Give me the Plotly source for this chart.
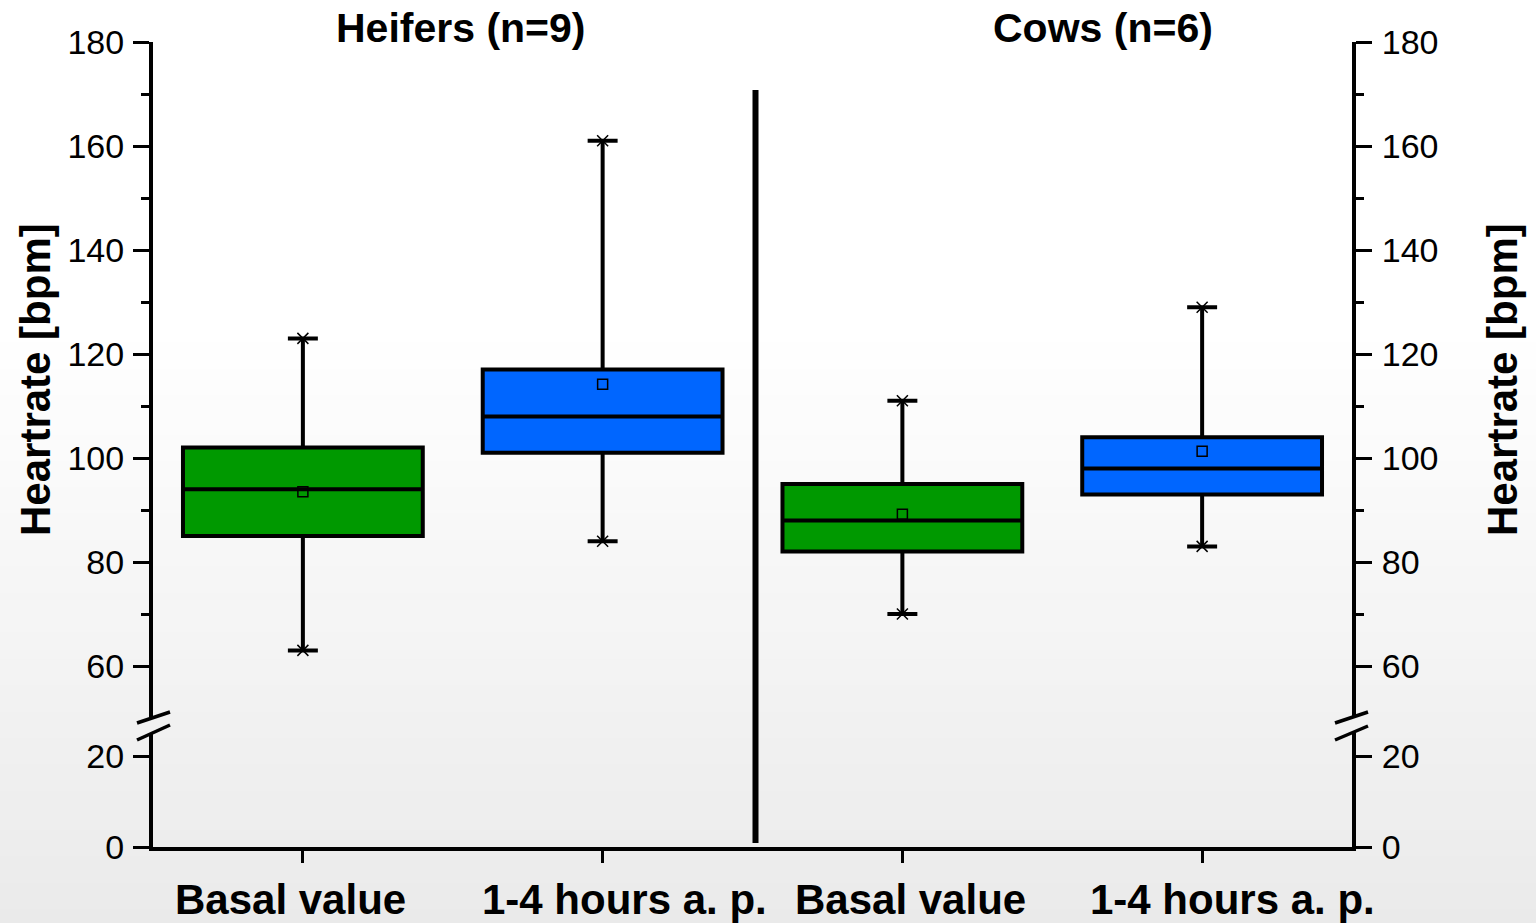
import plotly.graph_objects as go

# ---- data -------------------------------------------------------------
group_titles = ["Heifers (n=9)", "Cows (n=6)"]
time_labels = ["Basal value", "1-4 hours a. p.", "Basal value", "1-4 hours a. p."]
positions = [0.5, 1.5, 2.5, 3.5]

lower_whisker = [63, 84, 70, 83]
q1 = [85, 101, 82, 93]
median = [94, 108, 88, 98]
q3 = [102, 117, 95, 104]
upper_whisker = [123, 161, 111, 129]
mean = [93.5, 114.2, 89.2, 101.3]

upper_ticks = [60, 80, 100, 120, 140, 160, 180]
lower_ticks = [0, 20]

# ---- geometry helpers (page is 1536 x 923) -------------------------------
W, H = 1536, 923
L, R, T, B = 153, 1352, 42, 847


def px_x(px):
    return (px - L) / (R - L)


def px_y(py):
    return (B - py) / (B - T)


GREEN = "#009900"
BLUE = "#0066FF"
FONT = "Liberation Sans, Arial, sans-serif"

fig = go.Figure()

# background gradient (white at top fading to light grey at the bottom)
n_strips = 70
for k in range(n_strips):
    y0 = H * k / n_strips
    y1 = H * (k + 1) / n_strips
    mid = (y0 + y1) / 2
    t = max(0.0, (mid - 330) / (H - 330))
    g = round(255 - t * (255 - 234))
    fig.add_shape(type="rect", xref="paper", yref="paper",
                  x0=px_x(-5), x1=px_x(W + 5), y0=px_y(y1 + 0.5), y1=px_y(y0 - 0.5),
                  fillcolor=f"rgb({g},{g},{g})", line=dict(width=0), layer="below")

# box plots: basal values in green, post-partum values in blue
for idx, color in (([0, 2], GREEN), ([1, 3], BLUE)):
    fig.add_trace(go.Box(
        x=[positions[i] for i in idx],
        q1=[q1[i] for i in idx],
        median=[median[i] for i in idx],
        q3=[q3[i] for i in idx],
        lowerfence=[lower_whisker[i] for i in idx],
        upperfence=[upper_whisker[i] for i in idx],
        fillcolor=color,
        line=dict(color="black", width=4),
        width=0.8,
        whiskerwidth=0.125,
        boxpoints=False,
        showlegend=False,
        hoverinfo="skip",
        xaxis="x", yaxis="y",
    ))

# crosses at whisker ends
fig.add_trace(go.Scatter(
    x=positions + positions, y=lower_whisker + upper_whisker,
    mode="markers", xaxis="x", yaxis="y", showlegend=False, hoverinfo="skip",
    marker=dict(symbol="x-thin", size=11, line=dict(color="black", width=1.5)),
))

# mean markers
fig.add_trace(go.Scatter(
    x=positions, y=mean, mode="markers", xaxis="x", yaxis="y",
    showlegend=False, hoverinfo="skip",
    marker=dict(symbol="square-open", size=10, color="black", line=dict(width=1.5)),
))

# placeholders so the lower and right-hand axes are drawn
for ya, yv in (("y2", 10), ("y3", 100), ("y4", 10)):
    fig.add_trace(go.Scatter(x=[0.5], y=[yv], mode="markers", xaxis="x", yaxis=ya,
                             marker=dict(size=1, opacity=0), showlegend=False,
                             hoverinfo="skip"))

up_bottom = 717
lo_top = 733
up_range = [180 - (up_bottom - T) / 5.2, 180]
lo_range = [0, (B - lo_top) / 4.53]

axis_common = dict(showline=True, linecolor="black", linewidth=4, ticks="outside",
                   ticklen=16, tickwidth=3, tickcolor="black", showgrid=False,
                   zeroline=False, tickfont=dict(family=FONT, size=34, color="black"))
minor_ticks = dict(ticks="outside", ticklen=8, tickwidth=3, tickcolor="black",
                   tickvals=[70, 90, 110, 130, 150, 170])

fig.update_layout(
    width=W, height=H, autosize=False,
    margin=dict(l=L, r=W - R, t=T, b=H - B, pad=0),
    paper_bgcolor="white", plot_bgcolor="rgba(0,0,0,0)",
    boxmode="overlay",
    xaxis=dict(domain=[0, 1], range=[0, 4], anchor="y2", showline=True,
               linecolor="black", linewidth=4, ticks="outside", ticklen=12,
               tickwidth=3, tickcolor="black", tickvals=positions,
               showticklabels=False, showgrid=False, zeroline=False),
    yaxis=dict(domain=[px_y(up_bottom), 1], range=up_range, anchor="x",
               tickvals=upper_ticks, ticklabelstandoff=2, minor=minor_ticks,
               **axis_common),
    yaxis2=dict(domain=[0, px_y(lo_top)], range=lo_range, anchor="x",
                tickvals=lower_ticks, ticklabelstandoff=2, **axis_common),
    yaxis3=dict(domain=[px_y(up_bottom), 1], range=up_range, anchor="x",
                overlaying="y", side="right", tickvals=upper_ticks,
                ticklabelstandoff=3, minor=minor_ticks, **axis_common),
    yaxis4=dict(domain=[0, px_y(lo_top)], range=lo_range, anchor="x",
                overlaying="y2", side="right", tickvals=lower_ticks,
                ticklabelstandoff=3, **axis_common),
)

# vertical divider between the two groups
fig.add_shape(type="line", xref="x", yref="paper", x0=2.01, x1=2.01,
              y0=px_y(843), y1=px_y(90), line=dict(color="black", width=6))

# axis-break slashes on both sides
for (x0, y0, x1, y1) in [(137, 723, 170, 712), (137, 740, 170, 725),
                         (1335, 723, 1368, 712), (1335, 740, 1368, 726)]:
    fig.add_shape(type="line", xref="paper", yref="paper",
                  x0=px_x(x0), y0=px_y(y0), x1=px_x(x1), y1=px_y(y1),
                  line=dict(color="black", width=3.5))

# group titles
for title, cx in zip(group_titles, [461, 1103]):
    fig.add_annotation(text=f"<b>{title}</b>", xref="paper", yref="paper",
                       x=px_x(cx), y=px_y(28), xanchor="center", yanchor="middle",
                       showarrow=False, font=dict(family=FONT, size=41, color="black"))

# category labels under the x axis
for lab, cx in zip(time_labels, [290, 624, 910, 1232]):
    fig.add_annotation(text=f"<b>{lab}</b>", xref="paper", yref="paper",
                       x=px_x(cx), y=px_y(899), xanchor="center", yanchor="middle",
                       showarrow=False, font=dict(family=FONT, size=42, color="black"))

# y axis titles, left and right
for cx in (35, 1502):
    fig.add_annotation(text="<b>Heartrate [bpm]</b>", xref="paper", yref="paper",
                       x=px_x(cx), y=px_y(380), xanchor="center", yanchor="middle",
                       textangle=-90, showarrow=False,
                       font=dict(family=FONT, size=42, color="black"))

fig.write_html("out.html")
